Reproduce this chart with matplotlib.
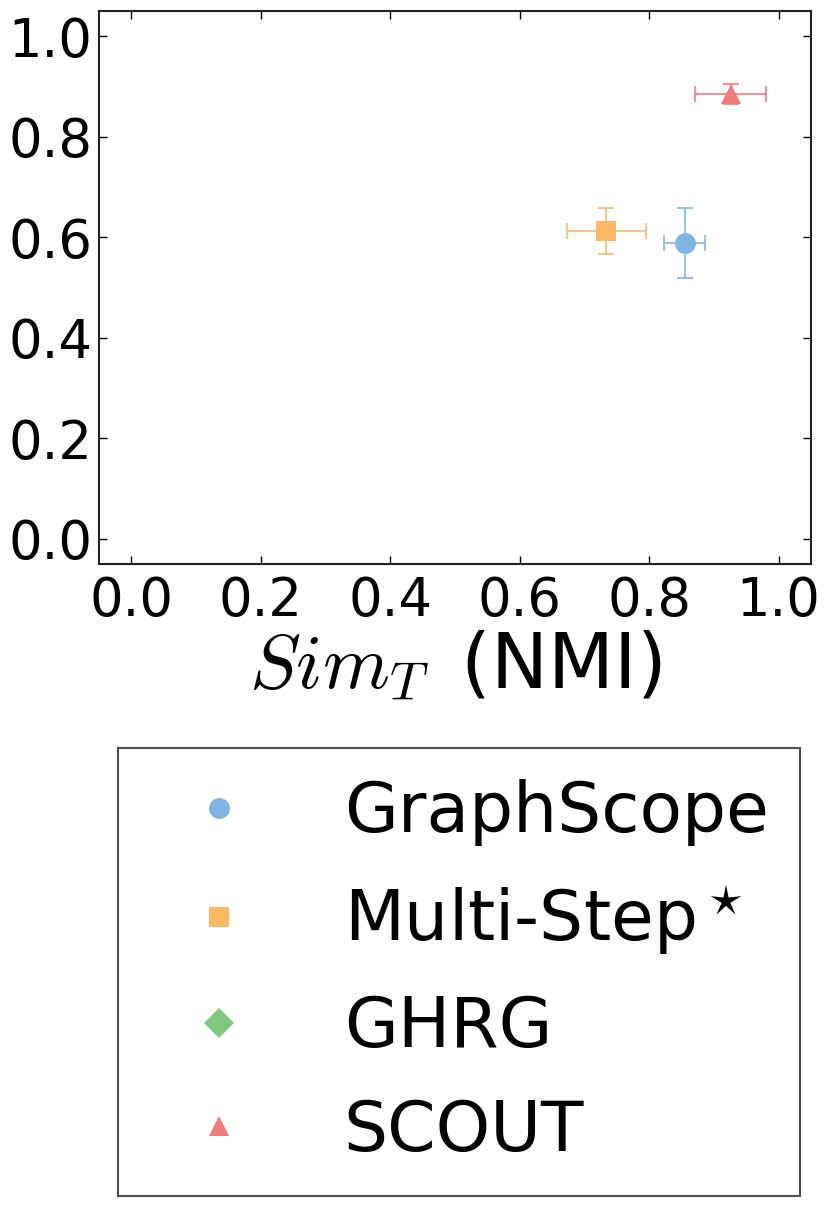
import matplotlib
matplotlib.use("Agg")
import matplotlib.pyplot as plt
import numpy as np

plt.rcParams['font.family'] = ['DejaVu Sans']
plt.rcParams['mathtext.fontset'] = 'cm'

# method results: similarity of topology (x) vs other similarity (y)
methods = ["GraphScope", "Multi-Step$^\\star$", "GHRG", "SCOUT"]
markers = ["o", "s", "D", "^"]
colors = ["#7fb5e1", "#fdb863", "#7fc97f", "#f47a7a"]
x_mean = [0.855, 0.734, np.nan, 0.926]
x_err = [0.032, 0.061, np.nan, 0.055]
y_mean = [0.588, 0.612, np.nan, 0.885]
y_err = [0.070, 0.046, np.nan, 0.020]

fig = plt.figure(figsize=(8.3, 12.05), dpi=100)
ax = fig.add_axes([99/830, 1-564/1205, 712/830, 553/1205])

handles = []
for i in range(len(methods)):
    ax.errorbar(x_mean[i], y_mean[i], xerr=x_err[i], yerr=y_err[i],
                fmt='none', ecolor=colors[i], elinewidth=1.5,
                capsize=6, capthick=1.5, alpha=0.8)
    h, = ax.plot(x_mean[i], y_mean[i], linestyle='none', marker=markers[i],
                 markersize=15, color=colors[i], markeredgewidth=0,
                 label=methods[i])
    handles.append(h)

ax.set_xlim(-0.05, 1.05)
ax.set_ylim(-0.05, 1.05)
ax.set_xticks([0.0, 0.2, 0.4, 0.6, 0.8, 1.0])
ax.set_yticks([0.0, 0.2, 0.4, 0.6, 0.8, 1.0])
ax.tick_params(direction='in', top=True, right=True, length=6,
               width=1, labelsize=38)
ax.tick_params(axis='x', pad=8)
ax.tick_params(axis='y', pad=5)
for s in ax.spines.values():
    s.set_linewidth(1.5)
    s.set_color('#222222')
ax.set_xlabel("$Sim_T\\,$ (NMI)", fontsize=55, labelpad=2)

fig.legend(handles=handles, loc='upper left',
           bbox_to_anchor=(118/830, 1-748/1205), borderaxespad=0,
           fontsize=50, numpoints=1, frameon=True, fancybox=False,
           borderpad=0.45, handlelength=2.0, handletextpad=0.8,
           labelspacing=0.53, edgecolor='#222222')
leg = fig.legends[0]
leg.get_frame().set_linewidth(1.5)

fig.savefig("out.png", dpi=100)
